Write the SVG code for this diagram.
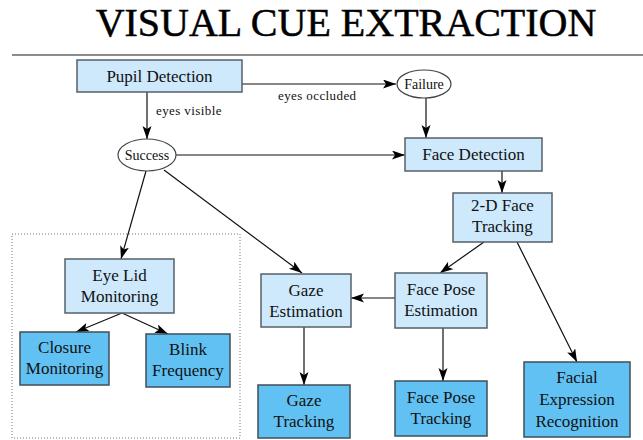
<svg xmlns="http://www.w3.org/2000/svg" width="643" height="440" viewBox="0 0 643 440">
  <style>
    .title { font-family: "Liberation Serif", "Times New Roman", serif; font-size: 40px; fill: #000; stroke: #000; stroke-width: 0.5; }
    .lbl { font-family: "Liberation Serif", "Times New Roman", serif; font-size: 17px; fill: #111; text-anchor: middle; }
    .edge-lbl { font-family: "Liberation Serif", "Times New Roman", serif; font-size: 13px; fill: #111; letter-spacing: 0.4px; }
    .ell-lbl { font-family: "Liberation Serif", "Times New Roman", serif; font-size: 14px; fill: #111; text-anchor: middle; }
    .light { fill: #cde9fb; stroke: #55606a; stroke-width: 1.5; }
    .dark { fill: #62c1f3; stroke: #3f4e5a; stroke-width: 1.5; }
    .state { fill: #fff; stroke: #444; stroke-width: 1.2; }
    .edge { fill: none; stroke: #111; stroke-width: 1.2; marker-end: url(#arrow); }
    .group { fill: none; stroke: #777; stroke-width: 1; stroke-dasharray: 1 2; }
  </style>
  <defs>
    <marker id="arrow" markerUnits="userSpaceOnUse" markerWidth="14" markerHeight="10" refX="13" refY="4.5" orient="auto">
      <path d="M0,0 L13,4.5 L0,9 L3,4.5 z" fill="#000"/>
    </marker>
  </defs>

  <rect width="643" height="440" fill="#fff"/>

  <!-- heading and rule -->
  <text class="title" x="346" y="36" text-anchor="middle">VISUAL CUE EXTRACTION</text>
  <line x1="12" y1="55" x2="643" y2="55" stroke="#666" stroke-width="1.5"/>

  <!-- eye-related sub-tasks grouping -->
  <rect class="group" x="12" y="234" width="228" height="204"/>

  <!-- connectors -->
  <g id="connectors">
    <line class="edge" x1="242" y1="84" x2="396" y2="84"/>
    <line class="edge" x1="147" y1="92" x2="147" y2="139"/>
    <line class="edge" x1="426" y1="98" x2="426" y2="138"/>
    <line class="edge" x1="176" y1="155" x2="405" y2="155"/>
    <line class="edge" x1="502" y1="171" x2="502" y2="193"/>
    <line class="edge" x1="146" y1="171" x2="121" y2="259"/>
    <line class="edge" x1="164" y1="170" x2="302" y2="273"/>
    <line class="edge" x1="484" y1="242" x2="440" y2="273"/>
    <line class="edge" x1="517" y1="242" x2="577" y2="362"/>
    <line class="edge" x1="395" y1="298" x2="351" y2="298"/>
    <line class="edge" x1="304" y1="327" x2="304" y2="385"/>
    <line class="edge" x1="443" y1="328" x2="443" y2="381"/>
    <line class="edge" x1="122" y1="313" x2="76" y2="332"/>
    <line class="edge" x1="122" y1="313" x2="168" y2="334"/>
    <text class="edge-lbl" x="278" y="100">eyes occluded</text>
    <text class="edge-lbl" x="156" y="115">eyes visible</text>
  </g>

  <!-- nodes -->
  <g id="pupil-detection">
    <rect class="light" x="77" y="60" width="165" height="32"/>
    <text class="lbl" x="159.5" y="82">Pupil Detection</text>
  </g>
  <g id="failure">
    <ellipse class="state" cx="424" cy="84" rx="27" ry="14"/>
    <text class="ell-lbl" x="424" y="89">Failure</text>
  </g>
  <g id="success">
    <ellipse class="state" cx="147" cy="155" rx="29" ry="16"/>
    <text class="ell-lbl" x="147" y="160">Success</text>
  </g>
  <g id="face-detection">
    <rect class="light" x="405" y="138" width="137" height="33"/>
    <text class="lbl" x="473.5" y="160">Face Detection</text>
  </g>
  <g id="face-tracking-2d">
    <rect class="light" x="453" y="193" width="99" height="49"/>
    <text class="lbl" x="502.5" y="211">2-D Face</text>
    <text class="lbl" x="502.5" y="232">Tracking</text>
  </g>
  <g id="eye-lid-monitoring">
    <rect class="light" x="65" y="259" width="109" height="54"/>
    <text class="lbl" x="119.5" y="281">Eye Lid</text>
    <text class="lbl" x="119.5" y="302">Monitoring</text>
  </g>
  <g id="closure-monitoring">
    <rect class="dark" x="20" y="332" width="89" height="53"/>
    <text class="lbl" x="64.5" y="353">Closure</text>
    <text class="lbl" x="64.5" y="374">Monitoring</text>
  </g>
  <g id="blink-frequency">
    <rect class="dark" x="146" y="334" width="84" height="53"/>
    <text class="lbl" x="188" y="355">Blink</text>
    <text class="lbl" x="188" y="376">Frequency</text>
  </g>
  <g id="gaze-estimation">
    <rect class="light" x="261" y="274" width="90" height="53"/>
    <text class="lbl" x="306" y="296">Gaze</text>
    <text class="lbl" x="306" y="317">Estimation</text>
  </g>
  <g id="face-pose-estimation">
    <rect class="light" x="395" y="273" width="92" height="55"/>
    <text class="lbl" x="441" y="295">Face Pose</text>
    <text class="lbl" x="441" y="316">Estimation</text>
  </g>
  <g id="gaze-tracking">
    <rect class="dark" x="258" y="385" width="92" height="53"/>
    <text class="lbl" x="304" y="406">Gaze</text>
    <text class="lbl" x="304" y="427">Tracking</text>
  </g>
  <g id="face-pose-tracking">
    <rect class="dark" x="395" y="381" width="92" height="55"/>
    <text class="lbl" x="441" y="403">Face Pose</text>
    <text class="lbl" x="441" y="424">Tracking</text>
  </g>
  <g id="facial-expression-recognition">
    <rect class="dark" x="524" y="362" width="106" height="75"/>
    <text class="lbl" x="577" y="383">Facial</text>
    <text class="lbl" x="577" y="405">Expression</text>
    <text class="lbl" x="577" y="427">Recognition</text>
  </g>
</svg>
